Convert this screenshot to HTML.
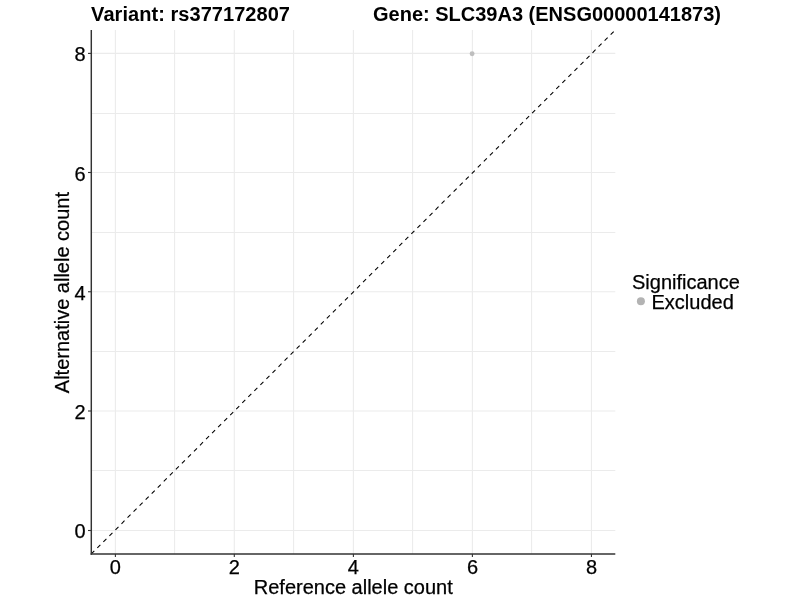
<!DOCTYPE html>
<html><head><meta charset="utf-8"><style>
html,body{margin:0;padding:0;background:#fff;}
svg{display:block;will-change:transform;}
text{font-family:"Liberation Sans",sans-serif;font-size:20px;fill:#000;stroke:#000;stroke-width:0.25px;}
</style></head><body>
<svg width="800" height="600" viewBox="0 0 800 600">
<rect width="800" height="600" fill="#fff"/>
<line x1="174.6" y1="30.0" x2="174.6" y2="553.95" stroke="#EBEBEB" stroke-width="1"/>
<line x1="91.3" y1="470.5" x2="615.3" y2="470.5" stroke="#EBEBEB" stroke-width="1"/>
<line x1="293.6" y1="30.0" x2="293.6" y2="553.95" stroke="#EBEBEB" stroke-width="1"/>
<line x1="91.3" y1="351.5" x2="615.3" y2="351.5" stroke="#EBEBEB" stroke-width="1"/>
<line x1="412.6" y1="30.0" x2="412.6" y2="553.95" stroke="#EBEBEB" stroke-width="1"/>
<line x1="91.3" y1="232.5" x2="615.3" y2="232.5" stroke="#EBEBEB" stroke-width="1"/>
<line x1="531.6" y1="30.0" x2="531.6" y2="553.95" stroke="#EBEBEB" stroke-width="1"/>
<line x1="91.3" y1="113.5" x2="615.3" y2="113.5" stroke="#EBEBEB" stroke-width="1"/>
<line x1="115.4" y1="30.0" x2="115.4" y2="553.95" stroke="#EBEBEB" stroke-width="1.1"/>
<line x1="91.3" y1="530.5" x2="615.3" y2="530.5" stroke="#EBEBEB" stroke-width="1.1"/>
<line x1="234.3" y1="30.0" x2="234.3" y2="553.95" stroke="#EBEBEB" stroke-width="1.1"/>
<line x1="91.3" y1="411.0" x2="615.3" y2="411.0" stroke="#EBEBEB" stroke-width="1.1"/>
<line x1="353.4" y1="30.0" x2="353.4" y2="553.95" stroke="#EBEBEB" stroke-width="1.1"/>
<line x1="91.3" y1="291.75" x2="615.3" y2="291.75" stroke="#EBEBEB" stroke-width="1.1"/>
<line x1="472.4" y1="30.0" x2="472.4" y2="553.95" stroke="#EBEBEB" stroke-width="1.1"/>
<line x1="91.3" y1="172.5" x2="615.3" y2="172.5" stroke="#EBEBEB" stroke-width="1.1"/>
<line x1="591.45" y1="30.0" x2="591.45" y2="553.95" stroke="#EBEBEB" stroke-width="1.1"/>
<line x1="91.3" y1="53.4" x2="615.3" y2="53.4" stroke="#EBEBEB" stroke-width="1.1"/>
<circle cx="472.1" cy="53.75" r="2.45" fill="#BEBEBE"/>
<line x1="91.3" y1="553.95" x2="615.3" y2="30.0" stroke="#000" stroke-width="1.07" stroke-dasharray="4.27 4.27"/>
<line x1="91.3" y1="30.0" x2="91.3" y2="554.6500000000001" stroke="#333" stroke-width="1.45"/>
<line x1="90.6" y1="553.95" x2="615.3" y2="553.95" stroke="#333" stroke-width="1.45"/>
<line x1="88.0" y1="530.5" x2="91.3" y2="530.5" stroke="#333" stroke-width="1.1"/>
<line x1="115.4" y1="553.95" x2="115.4" y2="556.9" stroke="#333" stroke-width="1.1"/>
<line x1="88.0" y1="411.0" x2="91.3" y2="411.0" stroke="#333" stroke-width="1.1"/>
<line x1="234.3" y1="553.95" x2="234.3" y2="556.9" stroke="#333" stroke-width="1.1"/>
<line x1="88.0" y1="291.75" x2="91.3" y2="291.75" stroke="#333" stroke-width="1.1"/>
<line x1="353.4" y1="553.95" x2="353.4" y2="556.9" stroke="#333" stroke-width="1.1"/>
<line x1="88.0" y1="172.5" x2="91.3" y2="172.5" stroke="#333" stroke-width="1.1"/>
<line x1="472.4" y1="553.95" x2="472.4" y2="556.9" stroke="#333" stroke-width="1.1"/>
<line x1="88.0" y1="53.4" x2="91.3" y2="53.4" stroke="#333" stroke-width="1.1"/>
<line x1="591.45" y1="553.95" x2="591.45" y2="556.9" stroke="#333" stroke-width="1.1"/>
<text x="85.6" y="538.35" text-anchor="end">0</text>
<text x="115.35" y="573.5" text-anchor="middle">0</text>
<text x="85.6" y="419.07" text-anchor="end">2</text>
<text x="234.38" y="573.5" text-anchor="middle">2</text>
<text x="85.6" y="299.79" text-anchor="end">4</text>
<text x="353.41" y="573.5" text-anchor="middle">4</text>
<text x="85.6" y="180.51" text-anchor="end">6</text>
<text x="472.44" y="573.5" text-anchor="middle">6</text>
<text x="85.6" y="61.23" text-anchor="end">8</text>
<text x="591.47" y="573.5" text-anchor="middle">8</text>
<text x="353.30" y="593.8" text-anchor="middle">Reference allele count</text>
<text transform="translate(68.8 292.58) rotate(-90)" text-anchor="middle">Alternative allele count</text>
<text x="91.1" y="20.8" font-weight="bold" style="stroke:none;letter-spacing:0.05px">Variant: rs377172807</text>
<text x="373" y="20.8" font-weight="bold" style="stroke:none">Gene: SLC39A3 (ENSG00000141873)</text>
<text x="632" y="288.6">Significance</text>
<circle cx="640.9" cy="301.2" r="4" fill="#B3B3B3"/>
<text x="651.5" y="308.5">Excluded</text>
</svg>
</body></html>
